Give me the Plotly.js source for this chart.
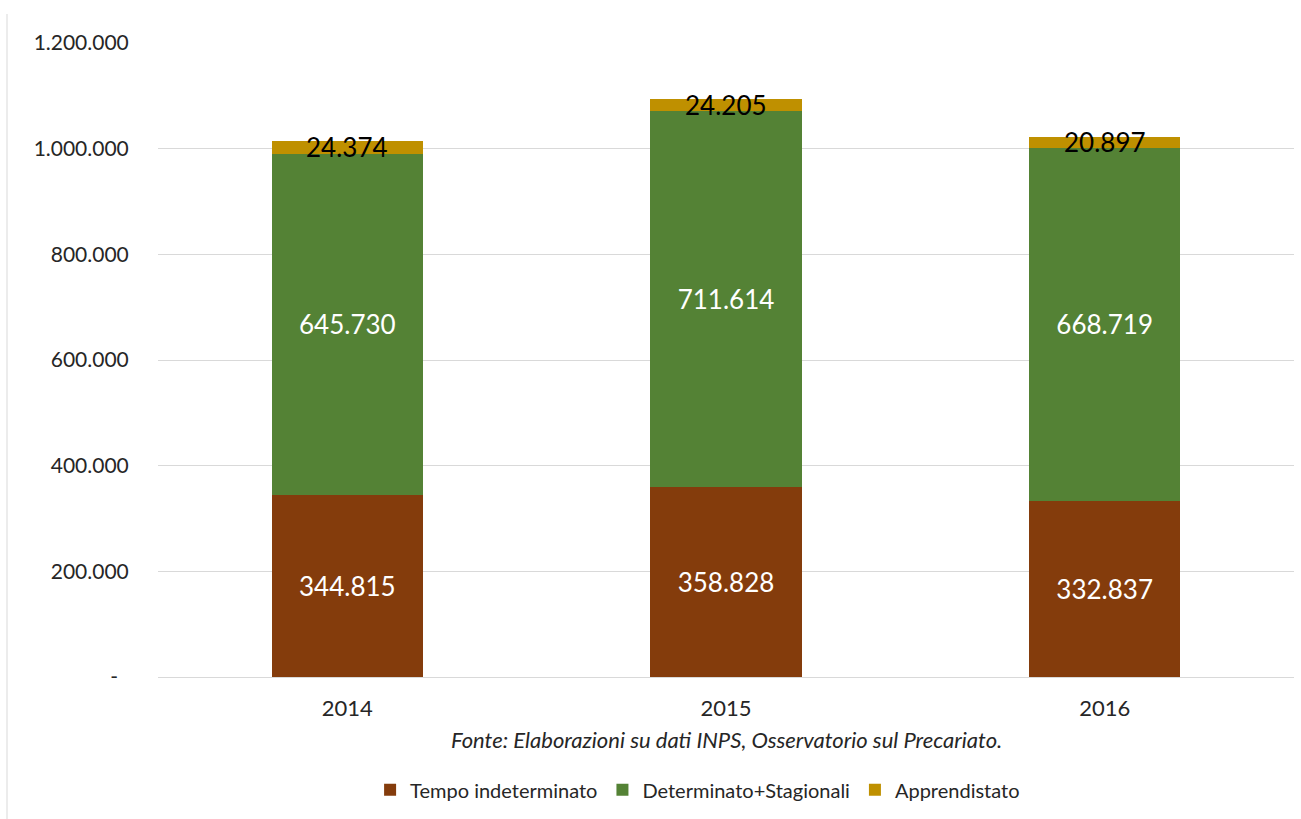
<!DOCTYPE html>
<html>
<head>
<meta charset="utf-8">
<script src="https://cdn.plot.ly/plotly-3.0.1.min.js"></script>
<style>html,body{margin:0;padding:0;background:#fff;}#chart{width:1301px;height:819px;}</style>
</head>
<body>
<div id="chart"></div>
<script>
const years = ["2014", "2015", "2016"];
const tempoIndeterminato = [344815, 358828, 332837];
const determinatoStagionali = [645730, 711614, 668719];
const apprendistato = [24374, 24205, 20897];
const seriesNames = ["Tempo indeterminato", "Determinato+Stagionali", "Apprendistato"];
const seriesColors = ["#843C0C", "#548235", "#BF9000"];
const yTickVals = [0, 200000, 400000, 600000, 800000, 1000000, 1200000];
const yTickText = ["-\u00a0\u00a0", "200.000", "400.000", "600.000", "800.000", "1.000.000", "1.200.000"];
const sourceNote = "Fonte: Elaborazioni su dati INPS, Osservatorio sul Precariato.";

function fmt(v) { return String(v).replace(/\B(?=(\d{3})+(?!\d))/g, "."); }

const FONT = "Lato, 'Noto Sans', sans-serif";
const series = [tempoIndeterminato, determinatoStagionali, apprendistato];
const textColors = ["#ffffff", "#ffffff", "#000000"];

const traces = series.map((vals, i) => ({
  type: "bar",
  name: seriesNames[i],
  x: years,
  y: vals,
  marker: { color: seriesColors[i] },
  text: vals.map(fmt),
  textposition: i === 2 ? "none" : "inside",
  insidetextanchor: "middle",
  textfont: { color: textColors[i], size: 26, family: FONT },
  hoverinfo: "skip"
}));

const annotations = years.map((yr, k) => ({
  x: k, y: tempoIndeterminato[k] + determinatoStagionali[k] + apprendistato[k] / 2,
  xref: "x", yref: "y", text: fmt(apprendistato[k]), showarrow: false,
  font: { color: "#000000", size: 26, family: FONT }, yanchor: "middle"
}));
annotations.push({
  x: 0.5, y: -0.099, xref: "paper", yref: "paper", text: "<i>" + sourceNote + "</i>",
  showarrow: false, font: { size: 22, color: "#262626", family: FONT }, yanchor: "middle"
});

const layout = {
  width: 1301, height: 819,
  margin: { l: 158, r: 7, t: 43, b: 142, autoexpand: false },
  paper_bgcolor: "#ffffff", plot_bgcolor: "#ffffff",
  barmode: "stack",
  bargap: 0.6,
  showlegend: true,
  legend: {
    orientation: "h", x: 0.475, xanchor: "center", y: -0.178, yanchor: "middle",
    font: { size: 20, color: "#262626", family: FONT }, traceorder: "normal", itemwidth: 30
  },
  xaxis: {
    type: "category", showgrid: false, zeroline: false, showline: false,
    ticks: "outside", ticklen: 12, tickcolor: "rgba(0,0,0,0)",
    tickfont: { size: 22, color: "#262626", family: FONT }
  },
  yaxis: {
    range: [0, 1200000], tickmode: "array", tickvals: yTickVals, ticktext: yTickText,
    showgrid: true, gridcolor: "#d9d9d9", gridwidth: 1, zeroline: true, zerolinecolor: "#d9d9d9",
    showline: false, ticks: "outside", ticklen: 24, tickcolor: "rgba(0,0,0,0)",
    tickfont: { size: 21, color: "#262626", family: FONT }
  },
  annotations: annotations,
  shapes: [{
    type: "line", xref: "paper", yref: "paper",
    x0: (7 - 158) / 1136, x1: (7 - 158) / 1136, y0: 1 + 29 / 634, y1: -142 / 634,
    line: { color: "#d9d9d9", width: 1 }
  }]
};

Plotly.newPlot("chart", traces, layout, { displayModeBar: false, staticPlot: true });
</script>
</body>
</html>
